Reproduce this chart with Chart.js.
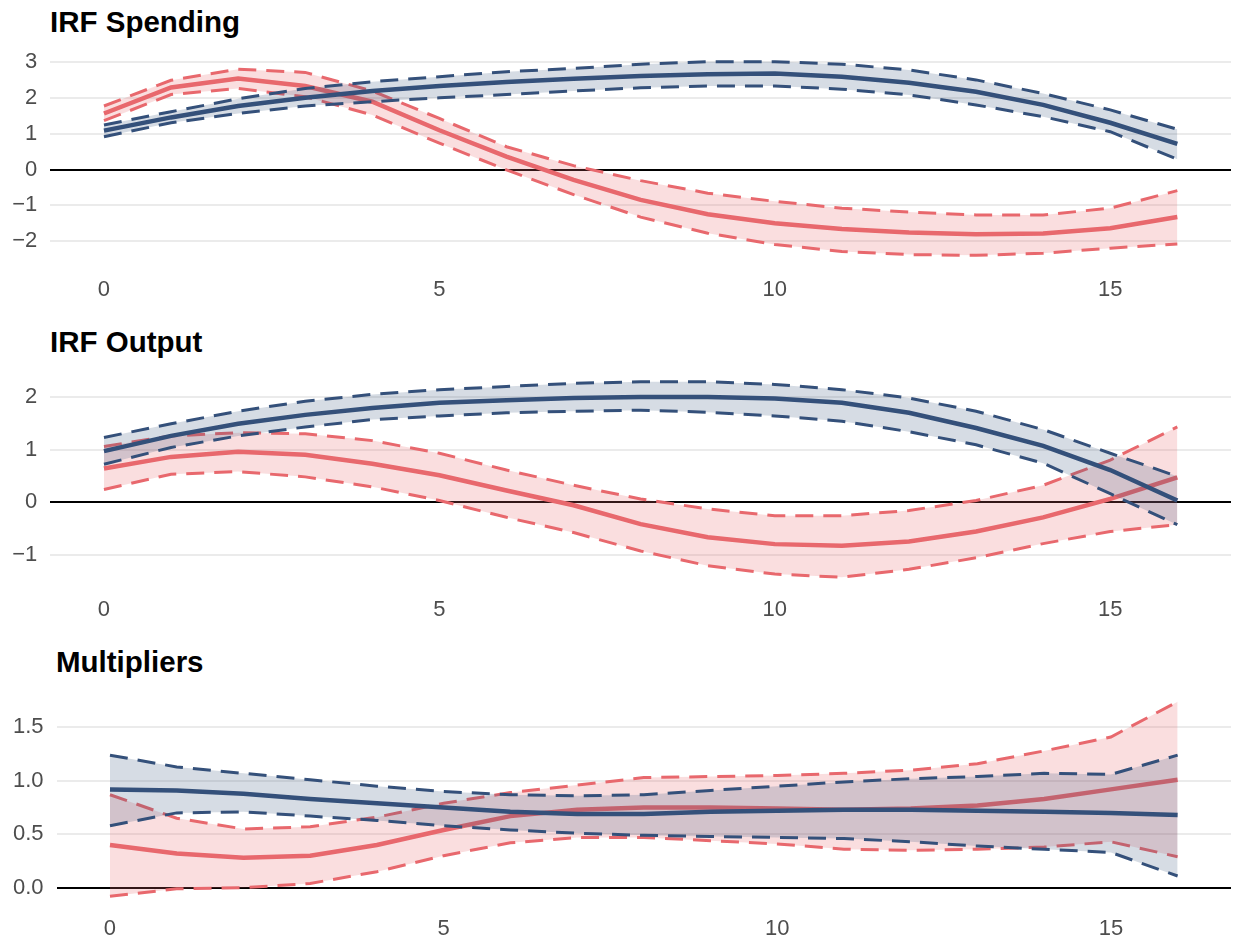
<!DOCTYPE html>
<html>
<head>
<meta charset="utf-8">
<script src="https://cdn.jsdelivr.net/npm/chart.js@4"></script>
<style>
  body { margin: 0; background: #fff; width: 1233px; height: 944px; position: relative; overflow: hidden; }
  canvas { position: absolute; left: 0; }
  .title { position: absolute; font-family: "Liberation Sans", Arial, sans-serif; font-weight: bold;
           font-size: 29.5px; line-height: 29px; color: #000; white-space: nowrap; }
</style>
</head>
<body>
<div class="title" style="left:50px; top:7px;">IRF Spending</div>
<div class="title" style="left:50px; top:327px;">IRF Output</div>
<div class="title" style="left:56px; top:647px;">Multipliers</div>
<canvas id="spending" width="1233" height="270" style="top:40px"></canvas>
<canvas id="output" width="1233" height="270" style="top:360px"></canvas>
<canvas id="mult" width="1233" height="264" style="top:680px"></canvas>
<script>
const horizon = [0, 1, 2, 3, 4, 5, 6, 7, 8, 9, 10, 11, 12, 13, 14, 15, 16];
const xTicks = [0, 5, 10, 15];

// IRF Spending
const spendBlue   = [1.09, 1.46, 1.78, 2.01, 2.20, 2.34, 2.45, 2.54, 2.62, 2.67, 2.69, 2.60, 2.43, 2.18, 1.81, 1.31, 0.72];
const spendBlueLo = [0.92, 1.31, 1.57, 1.78, 1.90, 2.01, 2.10, 2.20, 2.29, 2.34, 2.34, 2.25, 2.09, 1.81, 1.48, 1.06, 0.29];
const spendBlueHi = [1.25, 1.62, 1.98, 2.27, 2.46, 2.60, 2.74, 2.83, 2.95, 3.02, 3.02, 2.95, 2.79, 2.51, 2.13, 1.67, 1.13];
const spendRed    = [1.57, 2.30, 2.55, 2.34, 1.90, 1.10, 0.36, -0.29, -0.85, -1.25, -1.50, -1.66, -1.76, -1.81, -1.79, -1.64, -1.33];
const spendRedLo  = [1.37, 2.10, 2.27, 2.04, 1.53, 0.74, -0.01, -0.70, -1.33, -1.78, -2.10, -2.29, -2.38, -2.40, -2.34, -2.20, -2.08];
const spendRedHi  = [1.78, 2.50, 2.81, 2.72, 2.20, 1.43, 0.64, 0.11, -0.31, -0.66, -0.89, -1.08, -1.19, -1.27, -1.27, -1.08, -0.59];
const spendTicks  = [-2, -1, 0, 1, 2, 3];

// IRF Output
const outBlue   = [0.97, 1.26, 1.49, 1.66, 1.79, 1.89, 1.94, 1.98, 2.00, 2.00, 1.97, 1.89, 1.70, 1.41, 1.07, 0.61, 0.03];
const outBlueLo = [0.72, 1.04, 1.26, 1.43, 1.57, 1.64, 1.70, 1.73, 1.75, 1.71, 1.64, 1.54, 1.34, 1.09, 0.74, 0.16, -0.43];
const outBlueHi = [1.23, 1.49, 1.73, 1.92, 2.05, 2.14, 2.20, 2.26, 2.29, 2.29, 2.24, 2.14, 1.98, 1.73, 1.38, 0.93, 0.49];
const outRed    = [0.64, 0.86, 0.96, 0.90, 0.73, 0.51, 0.22, -0.06, -0.42, -0.67, -0.80, -0.83, -0.75, -0.56, -0.29, 0.06, 0.47];
const outRedLo  = [0.24, 0.53, 0.58, 0.48, 0.29, 0.03, -0.29, -0.58, -0.93, -1.21, -1.37, -1.43, -1.28, -1.06, -0.79, -0.56, -0.43];
const outRedHi  = [1.06, 1.26, 1.32, 1.30, 1.17, 0.93, 0.61, 0.32, 0.06, -0.13, -0.26, -0.26, -0.16, 0.03, 0.32, 0.80, 1.43];
const outTicks  = [-1, 0, 1, 2];

// Multipliers
const multBlue   = [0.92, 0.91, 0.88, 0.83, 0.79, 0.75, 0.71, 0.69, 0.69, 0.71, 0.72, 0.73, 0.73, 0.72, 0.71, 0.70, 0.68];
const multBlueLo = [0.58, 0.70, 0.71, 0.67, 0.63, 0.58, 0.54, 0.51, 0.49, 0.48, 0.47, 0.46, 0.43, 0.39, 0.36, 0.33, 0.11];
const multBlueHi = [1.24, 1.13, 1.07, 1.01, 0.95, 0.90, 0.87, 0.86, 0.87, 0.91, 0.95, 0.99, 1.02, 1.04, 1.07, 1.06, 1.24];
const multRed    = [0.40, 0.32, 0.28, 0.30, 0.40, 0.54, 0.67, 0.73, 0.75, 0.75, 0.74, 0.73, 0.74, 0.77, 0.83, 0.92, 1.01];
const multRedLo  = [-0.08, -0.01, 0.00, 0.04, 0.15, 0.30, 0.42, 0.47, 0.47, 0.44, 0.41, 0.36, 0.35, 0.36, 0.38, 0.43, 0.29];
const multRedHi  = [0.87, 0.65, 0.55, 0.57, 0.66, 0.79, 0.89, 0.96, 1.03, 1.04, 1.05, 1.07, 1.10, 1.16, 1.28, 1.41, 1.74];
const multTicks  = [0, 0.5, 1.0, 1.5];

const BLUE = '#34507a';
const RED = '#e8686d';
const BLUE_FILL = 'rgba(52, 80, 122, 0.2)';
const RED_FILL = 'rgba(232, 104, 109, 0.22)';
const FONT = '"Liberation Sans", Arial, sans-serif';
const DASH = [18, 10];

function pts(arr) {
    return horizon.map((h, i) => ({ x: h, y: arr[i] }));
}

function fmtNum(v, decimals) {
    const s = Math.abs(v).toFixed(decimals);
    return v < 0 ? '\u2212' + s : s;
}

function makePanel(id, s, yTicks, decimals, yAxisW, xAxisH, labelPad) {
    const all = [].concat(s.blueLo, s.blueHi, s.redLo, s.redHi);
    const lo = Math.min(...all), hi = Math.max(...all);
    const pad = (hi - lo) * 0.05;

    const line = (data, color, width, dash, fill, bg) => ({
        data: pts(data),
        borderColor: color,
        borderWidth: width,
        borderDash: dash,
        borderCapStyle: 'butt',
        pointRadius: 0,
        tension: 0,
        fill: fill,
        backgroundColor: bg || 'transparent'
    });

    new Chart(document.getElementById(id), {
        type: 'line',
        data: {
            // drawn from last to first: red band, red lines, then blue band and lines on top
            datasets: [
                line(s.blue, BLUE, 4.5, [], false),
                line(s.blueLo, BLUE, 3, DASH, false),
                line(s.blueHi, BLUE, 3, DASH, 1, BLUE_FILL),
                line(s.red, RED, 4.5, [], false),
                line(s.redLo, RED, 3, DASH, false),
                line(s.redHi, RED, 3, DASH, 4, RED_FILL)
            ]
        },
        options: {
            responsive: false,
            animation: false,
            layout: { padding: { top: 12, right: 2, left: 0, bottom: 0 } },
            plugins: { legend: { display: false }, tooltip: { enabled: false } },
            scales: {
                x: {
                    type: 'linear',
                    min: -0.8,
                    max: 16.8,
                    grid: { display: false, drawTicks: false },
                    border: { display: false },
                    afterBuildTicks: sc => { sc.ticks = xTicks.map(v => ({ value: v })); },
                    afterFit: sc => { sc.height = xAxisH; },
                    ticks: {
                        padding: labelPad,
                        color: '#4d4d4d',
                        font: { family: FONT, size: 22 },
                        maxRotation: 0,
                        autoSkip: false,
                        callback: v => String(v)
                    }
                },
                y: {
                    type: 'linear',
                    min: lo - pad,
                    max: hi + pad,
                    grid: {
                        drawTicks: false,
                        color: ctx => (ctx.tick && ctx.tick.value === 0) ? '#000000' : '#ebebeb',
                        lineWidth: 2
                    },
                    border: { display: false },
                    afterBuildTicks: sc => { sc.ticks = yTicks.map(v => ({ value: v })); },
                    afterFit: sc => {
                        sc.width = yAxisW;
                        sc.paddingTop = 0;
                        sc.paddingBottom = 0;
                    },
                    ticks: {
                        padding: 13,
                        color: '#4d4d4d',
                        font: { family: FONT, size: 22 },
                        autoSkip: false,
                        callback: v => fmtNum(v, decimals)
                    }
                }
            }
        }
    });
}

makePanel('spending', {
    blue: spendBlue, blueLo: spendBlueLo, blueHi: spendBlueHi,
    red: spendRed, redLo: spendRedLo, redHi: spendRedHi
}, spendTicks, 0, 50.3, 45, 12);

makePanel('output', {
    blue: outBlue, blueLo: outBlueLo, blueHi: outBlueHi,
    red: outRed, redLo: outRedLo, redHi: outRedHi
}, outTicks, 0, 50.3, 43, 10);

makePanel('mult', {
    blue: multBlue, blueLo: multBlueLo, blueHi: multBlueHi,
    red: multRed, redLo: multRedLo, redHi: multRedHi
}, multTicks, 1, 56.6, 38, 10);
</script>
</body>
</html>
